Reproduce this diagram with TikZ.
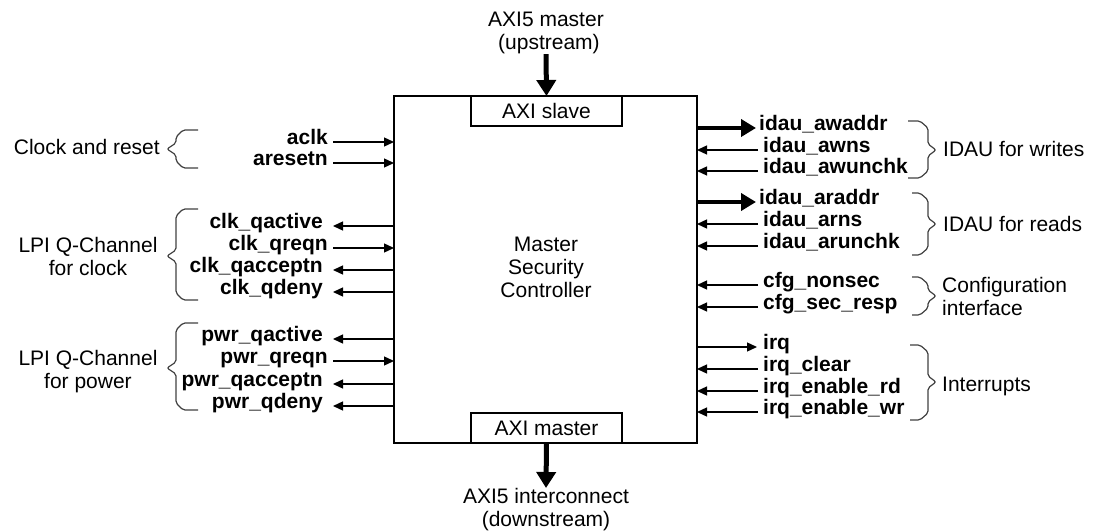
\documentclass[tikz,border=0pt]{standalone}
\usepackage{fontspec}
\setmainfont{Liberation Sans}
\usetikzlibrary{arrows.meta}
\newcommand\BraceLeft[3]{%
  \draw[bracestyle] (198,#1) -- (183,#1) -- (176,#1+7) -- (176,#3-6) -- (167,#3) -- (176,#3+6) -- (176,#2-7) -- (183,#2) -- (198,#2);}
\newcommand\BraceRight[4]{%
  \draw[bracestyle] (#1,#2) -- (920,#2) -- (928,#2+7) -- (928,#4-6) -- (936,#4) -- (928,#4+6) -- (928,#3-7) -- (920,#3) -- (#1,#3);}
\begin{document}
\begin{tikzpicture}[x=1pt,y=-1pt,
  font=\fontsize{21}{23}\selectfont,
  sig/.style={font=\fontsize{21}{23}\selectfont\bfseries, inner sep=0pt},
  txt/.style={inner sep=0pt, align=center},
  wire/.style={line width=1.3pt, -{Triangle[length=10pt,width=9pt]}},
  bus/.style={line width=4pt, -{Triangle[length=15pt,width=17pt]}},
  trunk/.style={line width=5pt, -{Triangle[length=16pt,width=19pt]}},
  bracestyle/.style={line width=1.2pt, black!75, rounded corners=2pt},
  blk/.style={draw, line width=2pt, outer sep=0pt, inner sep=0pt, anchor=north west},
  port/.style={draw, line width=1.3pt, outer sep=0pt, inner sep=0pt, anchor=north west, minimum width=151pt, minimum height=30pt}
]
\useasboundingbox (0,0) rectangle (1096,532);

% main block
\node[blk, minimum width=303pt, minimum height=347pt] (box) at (394,96) {};
\node[txt] (title) at (546,267) {Master\\Security\\Controller};
\node[port] (slave) at (471,96) {AXI slave};
\node[port] (mst) at (471,413) {AXI master};

% top / bottom
\node[txt, anchor=north] (up) at (546,12) {AXI5 master\\\hphantom{ }(upstream)};
\node[txt, anchor=north] (down) at (546,488) {AXI5 interconnect\\(downstream)};
\draw[trunk] (up.south) -- (slave.north);
\draw[trunk] (mst.south) -- (down.north);

% left inputs
\foreach \n/\t/\y in {aclk/aclk/142, aresetn/aresetn/163, cqreqn/clk\_qreqn/248, pqreqn/pwr\_qreqn/361}{
  \node[sig, anchor=mid east] (\n) at (328,\y) {\t};
  \draw[wire] ([xshift=5pt]\n.mid east) -- (\n.mid east -| box.west);
}
% left outputs
\foreach \n/\t/\y in {cqactive/clk\_qactive/226, cqacceptn/clk\_qacceptn/270, cqdeny/clk\_qdeny/292,
                       pqactive/pwr\_qactive/339, pqacceptn/pwr\_qacceptn/384, pqdeny/pwr\_qdeny/406}{
  \node[sig, anchor=mid east] (\n) at (323,\y) {\t};
  \draw[wire] (\n.mid east -| box.west) -- ([xshift=10pt]\n.mid east);
}

% right bus outputs
\foreach \n/\t/\y in {awaddr/idau\_awaddr/128, araddr/idau\_araddr/202}{
  \node[sig, anchor=mid west] (\n) at (759,\y) {\t};
  \draw[bus] (\n.mid west -| box.east) -- ([xshift=-3pt]\n.mid west);
}
% right output
\node[sig, anchor=mid west] (irq) at (763,347) {irq};
\draw[wire] (irq.mid west -| box.east) -- ([xshift=-6pt]irq.mid west);
% right inputs
\foreach \n/\t/\y in {awns/idau\_awns/150, awunchk/idau\_awunchk/171, arns/idau\_arns/224, arunchk/idau\_arunchk/246,
                       nonsec/cfg\_nonsec/285, secresp/cfg\_sec\_resp/307,
                       irqclr/irq\_clear/369, irqrd/irq\_enable\_rd/391, irqwr/irq\_enable\_wr/412}{
  \node[sig, anchor=mid west] (\n) at (763,\y) {\t};
  \draw[wire] ([xshift=-5pt]\n.mid west) -- (\n.mid west -| box.east);
}

% left group labels and braces
\node[txt, anchor=base east] (clkrst) at (160,155) {Clock and reset};
\node[txt, anchor=north] (lpiclk) at (88,237) {LPI Q-Channel\\for clock};
\node[txt, anchor=north] (lpipwr) at (88,350) {LPI Q-Channel\\for power};
\BraceLeft{130}{168}{149}
\BraceLeft{209}{300}{256}
\BraceLeft{323}{410}{368}

% right group labels and braces
\node[txt, anchor=base west] (idauw) at (943,157) {IDAU for writes};
\node[txt, anchor=base west] (idaur) at (943,231) {IDAU for reads};
\node[txt, anchor=north west, align=left] (cfg) at (942,277) {Configuration\\interface};
\node[txt, anchor=base west] (intr) at (942,391) {Interrupts};
\BraceRight{908}{121}{178}{150}
\BraceRight{912}{193}{255}{224}
\BraceRight{912}{277}{315}{296}
\BraceRight{910}{345}{420}{382}
\end{tikzpicture}
\end{document}
